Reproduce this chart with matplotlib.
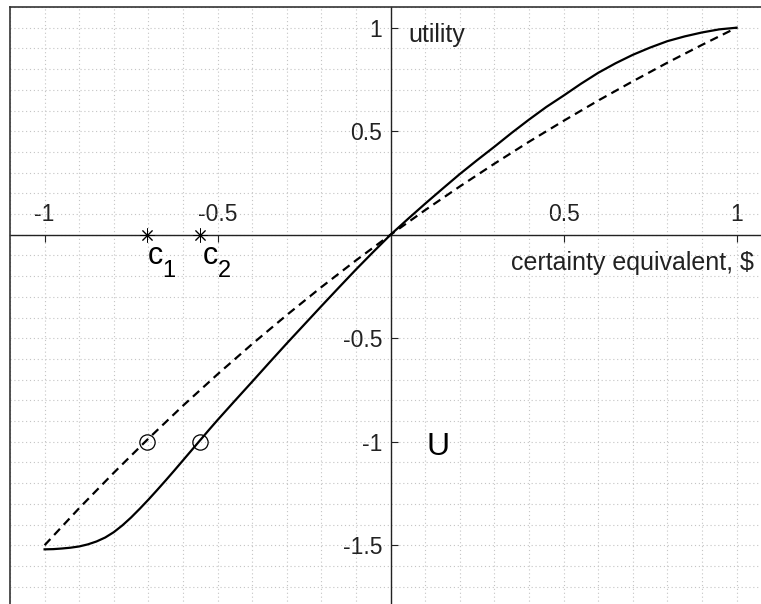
import matplotlib
matplotlib.use('Agg')
import matplotlib.pyplot as plt
import numpy as np

plt.rcParams['font.family'] = ['Liberation Sans', 'DejaVu Sans']

# certainty equivalents
c1 = -0.705
c2 = -0.552
u_level = -1.0

# dashed curve
x_dash = [-1.0, -0.9, -0.8, -0.7, -0.6, -0.5, -0.4, -0.3, -0.2, -0.1, 0.0,
          0.1, 0.2, 0.3, 0.4, 0.5, 0.6, 0.7, 0.8, 0.9, 1.0]
y_dash = [-1.500, -1.321, -1.150, -0.985, -0.826, -0.674, -0.528, -0.388, -0.253, -0.124, 0.0,
          0.119, 0.233, 0.343, 0.449, 0.550, 0.648, 0.741, 0.831, 0.917, 1.0]

# solid curve
x_solid = [-1.0, -0.975, -0.95, -0.925, -0.9, -0.875, -0.85, -0.825, -0.8, -0.775, -0.75,
           -0.725, -0.7, -0.675, -0.65, -0.625, -0.6, -0.575, -0.55, -0.525, -0.5,
           -0.45, -0.4, -0.35, -0.3, -0.25, -0.2, -0.15, -0.1, -0.05, 0.0,
           0.05, 0.1, 0.15, 0.2, 0.25, 0.3, 0.35, 0.4, 0.45, 0.5, 0.55, 0.6, 0.65,
           0.7, 0.75, 0.8, 0.85, 0.9, 0.95, 1.0]
y_solid = [-1.520, -1.519, -1.516, -1.512, -1.506, -1.496, -1.482, -1.463, -1.437, -1.404, -1.366,
           -1.324, -1.280, -1.234, -1.187, -1.139, -1.090, -1.041, -0.992, -0.943, -0.895,
           -0.802, -0.710, -0.617, -0.525, -0.435, -0.345, -0.256, -0.168, -0.083, 0.0,
           0.076, 0.150, 0.222, 0.293, 0.360, 0.425, 0.492, 0.556, 0.617, 0.672, 0.729, 0.782, 0.828,
           0.869, 0.904, 0.935, 0.958, 0.977, 0.992, 1.0]

xticks = [-1, -0.5, 0.5, 1]
xtick_labels = ['-1', '-0.5', '0.5', '1']
yticks = [-1.5, -1, -0.5, 0.5, 1]
ytick_labels = ['-1.5', '-1', '-0.5', '0.5', '1']

W, H = 761, 604
fig = plt.figure(figsize=(W / 100, H / 100), dpi=100)
pos = [10 / W, (H - 607.3) / H, 761.2 / W, 600.3 / H]
ax = fig.add_axes(pos)

ax.set_xlim(-1.1, 1.1)
ax.set_ylim(-1.8, 1.1)

# grid every 0.1
ax.set_xticks(np.arange(-11, 12) / 10, minor=True)
ax.set_yticks(np.arange(-18, 12) / 10, minor=True)
ax.grid(which='both', color='#c4c4c4', linestyle=(0, (1, 2.5)), linewidth=0.8, zorder=0)
ax.set_axisbelow(True)

ax.set_xticks(xticks)
ax.set_xticklabels(xtick_labels)
ax.set_yticks(yticks)
ax.set_yticklabels(ytick_labels)

# axes through the origin
for s in ['right', 'bottom']:
    ax.spines[s].set_visible(False)
ax.spines['left'].set_position(('data', 0))
ax.spines['top'].set_position(('data', 0))
for s in ['left', 'top']:
    ax.spines[s].set_linewidth(1.0)
    ax.spines[s].set_color('#222222')
ax.xaxis.set_ticks_position('top')
ax.yaxis.set_ticks_position('left')
ax.tick_params(which='major', direction='in', length=5, width=0.8, colors='#222222',
               labelsize=16.5, pad=6)
ax.tick_params(which='minor', length=0)

ax.plot(x_dash, y_dash, color='black', lw=1.6, linestyle=(0, (3.8, 2.5)), zorder=3)
ax.plot(x_solid, y_solid, color='black', lw=1.6, zorder=3)

ax.plot([c1, c2], [0, 0], linestyle='none', marker=(8, 2, 0), markersize=10,
        markeredgewidth=0.7, color='black', zorder=4)
ax.plot([c1, c2], [u_level, u_level], linestyle='none', marker='o', markersize=11,
        markerfacecolor='none', markeredgecolor='black', markeredgewidth=0.9, zorder=4)

txt = '#222222'
ax.text(0.05, 0.93, 'utility', fontsize=18, color=txt, va='baseline', ha='left')
ax.text(0.348, -0.172, 'certainty equivalent, $', fontsize=18, color=txt,
        va='baseline', ha='left')
ax.text(0.105, -1.066, 'U', fontsize=23, color='black', va='baseline', ha='left')

ax.text(-0.681, -0.140, 'c', fontsize=22, color='black', va='baseline', ha='center')
ax.text(-0.640, -0.205, '1', fontsize=17, color='black', va='baseline', ha='center')
ax.text(-0.522, -0.140, 'c', fontsize=22, color='black', va='baseline', ha='center')
ax.text(-0.479, -0.205, '2', fontsize=17, color='black', va='baseline', ha='center')

# outer frame
fr = fig.add_axes(pos, zorder=5)
fr.patch.set_visible(False)
fr.set_xticks([])
fr.set_yticks([])
for s in ['right', 'bottom']:
    fr.spines[s].set_visible(False)
for s in ['left', 'top']:
    fr.spines[s].set_linewidth(1.2)
    fr.spines[s].set_color('#333333')

fig.savefig('out.png', dpi=100)
